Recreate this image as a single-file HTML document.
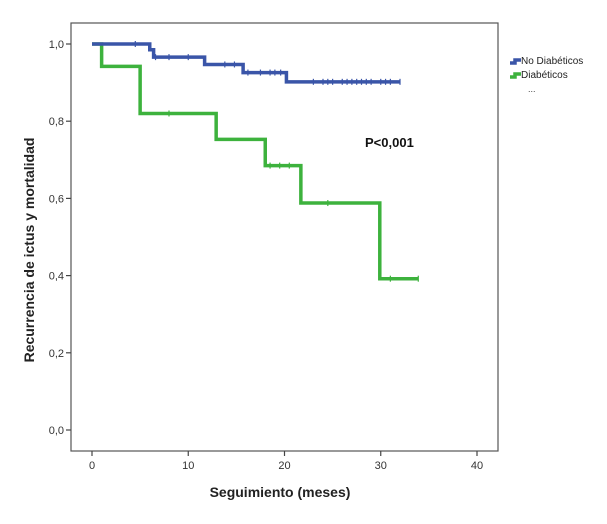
<!DOCTYPE html>
<html><head><meta charset="utf-8"><style>
body{margin:0;background:#fff;}
svg text{font-family:"Liberation Sans",Arial,sans-serif;}
</style></head><body>
<svg width="607" height="519" viewBox="0 0 607 519" xmlns="http://www.w3.org/2000/svg">
<rect x="0" y="0" width="607" height="519" fill="#fff"/>
<rect x="71" y="23" width="427" height="428" fill="#fff" stroke="#555" stroke-width="1.2"/>
<g id="axes"></g>
<g id="series"></g>
<text x="365" y="147" font-size="13" font-weight="bold" fill="#111">P&lt;0,001</text>
<text x="280" y="497" font-size="14" font-weight="bold" text-anchor="middle" fill="#222">Seguimiento (meses)</text>
<text x="0" y="0" font-size="14" font-weight="bold" text-anchor="middle" fill="#222" transform="translate(34,250) rotate(-90)">Recurrencia de ictus y mortalidad</text>
<g>
<path d="M510 63 h5 v-3 h6" stroke="#3a55a8" stroke-width="3.5" fill="none"/>
<text x="521" y="64" font-size="10" fill="#222">No Diabéticos</text>
<path d="M510 77 h5 v-3 h6" stroke="#3db23d" stroke-width="3.5" fill="none"/>
<text x="521" y="78" font-size="10" fill="#222">Diabéticos</text>
<text x="528" y="92" font-size="9" fill="#444">...</text>
</g>
</svg>
<script>
const xTicks=[0,10,20,30,40];
const yTicks=[0,0.2,0.4,0.6,0.8,1.0];
const yTickLabels=["0,0","0,2","0,4","0,6","0,8","1,0"];
const blueTimes=[0,6.0,6.4,11.7,15.7,20.2,32];
const blueSurv=[1.0,0.985,0.966,0.947,0.926,0.902,0.902];
const blueCensor=[4.5,6.6,8,10,13.8,14.8,16.2,17.5,18.5,19,19.6,23,24,24.5,25,26,26.5,27,27.5,28,28.5,29,30,30.5,31,32];
const greenTimes=[0,1.0,5.0,12.9,18.0,21.7,29.9,33.9];
const greenSurv=[1.0,0.942,0.82,0.753,0.685,0.588,0.392,0.392];
const greenCensor=[8,18.5,19.5,20.5,24.5,31,33.9];
const NS='http://www.w3.org/2000/svg';
const xs=v=>92+v*(477-92)/40;
const ys=v=>430-v*(430-44);
const axes=document.getElementById('axes');
const ser=document.getElementById('series');
function mk(tag,attrs,parent){const e=document.createElementNS(NS,tag);for(const k in attrs)e.setAttribute(k,attrs[k]);parent.appendChild(e);return e;}
xTicks.forEach(t=>{
 const l=mk('line',{x1:xs(t),x2:xs(t),y1:451,y2:456,stroke:'#444','stroke-width':1.2},axes);
 
 
 const tx=mk('text',{x:xs(t),y:469,'font-size':11,'text-anchor':'middle',fill:'#333'},axes);
 tx.textContent=t;
 
 
});
yTicks.forEach((t,i)=>{
 const l=mk('line',{x1:66,x2:71,y1:ys(t),y2:ys(t),stroke:'#444','stroke-width':1.2},axes);
 
 
 const tx=mk('text',{x:64,y:ys(t)+4,'font-size':11,'text-anchor':'end',fill:'#333'},axes);
 tx.textContent=yTickLabels[i];
 
 
});
function survAt(times,surv,t){let s=surv[0];for(let i=0;i<times.length;i++){if(times[i]<=t)s=surv[i];}return s;}
function drawSeries(times,surv,censor,color,name){
 let d='M'+xs(times[0])+' '+ys(surv[0]);
 for(let i=1;i<times.length;i++){d+=' H'+xs(times[i])+' V'+ys(surv[i]);}
 const p=mk('path',{d:d,fill:'none',stroke:color,'stroke-width':3.5,'stroke-linejoin':'miter'},ser);
 
 
 censor.forEach(c=>{
  const y=ys(survAt(times,surv,c));
  const m=mk('line',{x1:xs(c),x2:xs(c),y1:y-3,y2:y+3,stroke:color,'stroke-width':1.2},ser);
  
  
 });
}
drawSeries(greenTimes,greenSurv,greenCensor,'#3db23d','diabeticos');
drawSeries(blueTimes,blueSurv,blueCensor,'#3a55a8','no-diabeticos');
</script>
</body></html>
